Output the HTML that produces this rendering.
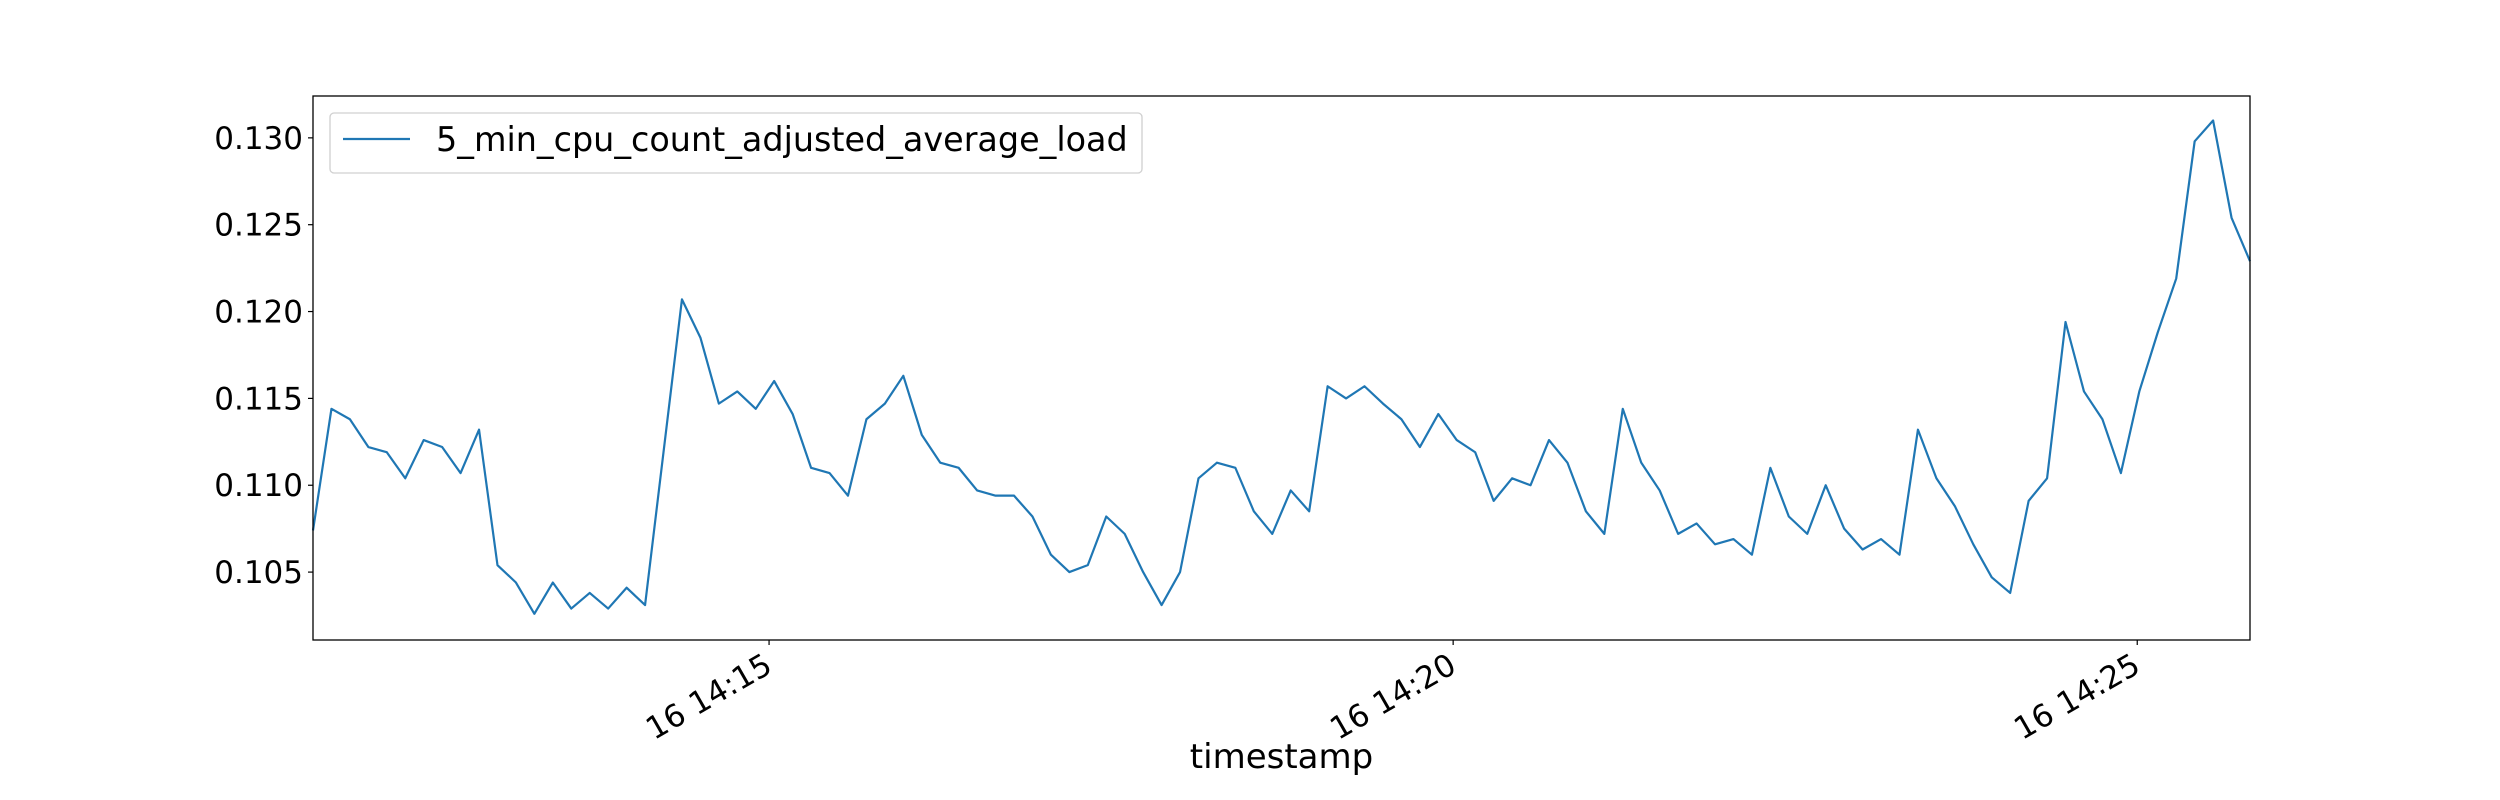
<!DOCTYPE html>
<html><head><meta charset="utf-8"><style>
html,body{margin:0;padding:0;background:#fff;}
svg{display:block;font-family:"DejaVu Sans","Liberation Sans",sans-serif;}
</style></head><body>
<svg id="chart" width="2500" height="800"></svg>
<script>
const values = [0.1074,0.1144,0.1138,0.1122,0.1119,0.1104,0.1126,0.1122,0.1107,0.1132,
0.1054,0.1044,0.1026,0.1044,0.1029,0.1038,0.1029,0.1041,0.1031,0.1119,
0.1207,0.1185,0.1147,0.1154,0.1144,0.1160,0.1141,0.1110,0.1107,0.1094,
0.1138,0.1147,0.1163,0.1129,0.1113,0.1110,0.1097,0.1094,0.1094,0.1082,
0.1060,0.1050,0.1054,0.1082,0.1072,0.1050,0.1031,0.1050,0.1104,0.1113,
0.1110,0.1085,0.1072,0.1097,0.1085,0.1157,0.1150,0.1157,0.1147,0.1138,
0.1122,0.1141,0.1126,0.1119,0.1091,0.1104,0.1100,0.1126,0.1113,0.1085,
0.1072,0.1144,0.1113,0.1097,0.1072,0.1078,0.1066,0.1069,0.1060,0.1110,
0.1082,0.1072,0.1100,0.1075,0.1063,0.1069,0.1060,0.1132,0.1104,0.1088,
0.1066,0.1047,0.1038,0.1091,0.1104,0.1194,0.1154,0.1138,0.1107,0.1154,
0.1188,0.1219,0.1298,0.1310,0.1254,0.1229];
const startSec = -200;      // seconds relative to 14:15:00
const stepSec = 8.09;
const yTicks = [0.105,0.110,0.115,0.120,0.125,0.130];
const yTickLabels = ["0.105","0.110","0.115","0.120","0.125","0.130"];
const xTicks = [0,300,600];
const xTickLabels = ["16 14:15","16 14:20","16 14:25"];
const seriesName = "5_min_cpu_count_adjusted_average_load";

const L=313,R=2250,T=96,B=640;
const yMin=0.10109,yMax=0.13241;
const xMin=startSec,xMax=startSec+stepSec*(values.length-1);
const X=t=>L+(t-xMin)/(xMax-xMin)*(R-L);
const Y=v=>B-(v-yMin)/(yMax-yMin)*(B-T);
const svg=document.getElementById('chart');
const NS='http://www.w3.org/2000/svg';
function mk(tag,attrs,parent){const e=document.createElementNS(NS,tag);for(const k in attrs)e.setAttribute(k,attrs[k]);(parent||svg).appendChild(e);return e;}

let d='';
values.forEach((v,i)=>{d+=(i?'L':'M')+X(startSec+i*stepSec).toFixed(2)+','+Y(v).toFixed(2);});
const line=mk('path',{d:d,fill:'none',stroke:'#1f77b4','stroke-width':2.2,'stroke-linejoin':'round'});



const frame=mk('rect',{x:L,y:T,width:R-L,height:B-T,fill:'none',stroke:'#000','stroke-width':1.3});



yTicks.forEach((v,i)=>{
  const y=Y(v);
  const tk=mk('line',{x1:L-5,x2:L,y1:y,y2:y,stroke:'#000','stroke-width':1.2});
  
  
  const t=mk('text',{x:L-10,y:y+11,'text-anchor':'end','font-size':31,fill:'#000'});
  t.textContent=yTickLabels[i];
  
  
});
xTicks.forEach((s,i)=>{
  const x=X(s);
  const tk=mk('line',{x1:x,x2:x,y1:B,y2:B+5,stroke:'#000','stroke-width':1.2});
  
  
  const g=mk('g',{transform:'translate('+(x-6)+','+(B+12)+') rotate(-30)'});
  const t=mk('text',{x:0,y:22,'text-anchor':'end','font-size':31,fill:'#000'},g);
  t.textContent=xTickLabels[i];
  
  
});
const xt=mk('text',{x:(L+R)/2,y:768,'text-anchor':'middle','font-size':34,fill:'#000'});
xt.textContent='timestamp';



const lg=mk('g',{});


mk('rect',{x:330,y:113,width:812,height:60,rx:4,fill:'#fff',stroke:'#d0d0d0','stroke-width':1.3},lg);
const ll=mk('line',{x1:343,x2:410,y1:139,y2:139,stroke:'#1f77b4','stroke-width':2.2},lg);


const lt=mk('text',{x:436,y:151,'font-size':33.4,fill:'#000'},lg);
lt.textContent=seriesName;


</script>
</body></html>
